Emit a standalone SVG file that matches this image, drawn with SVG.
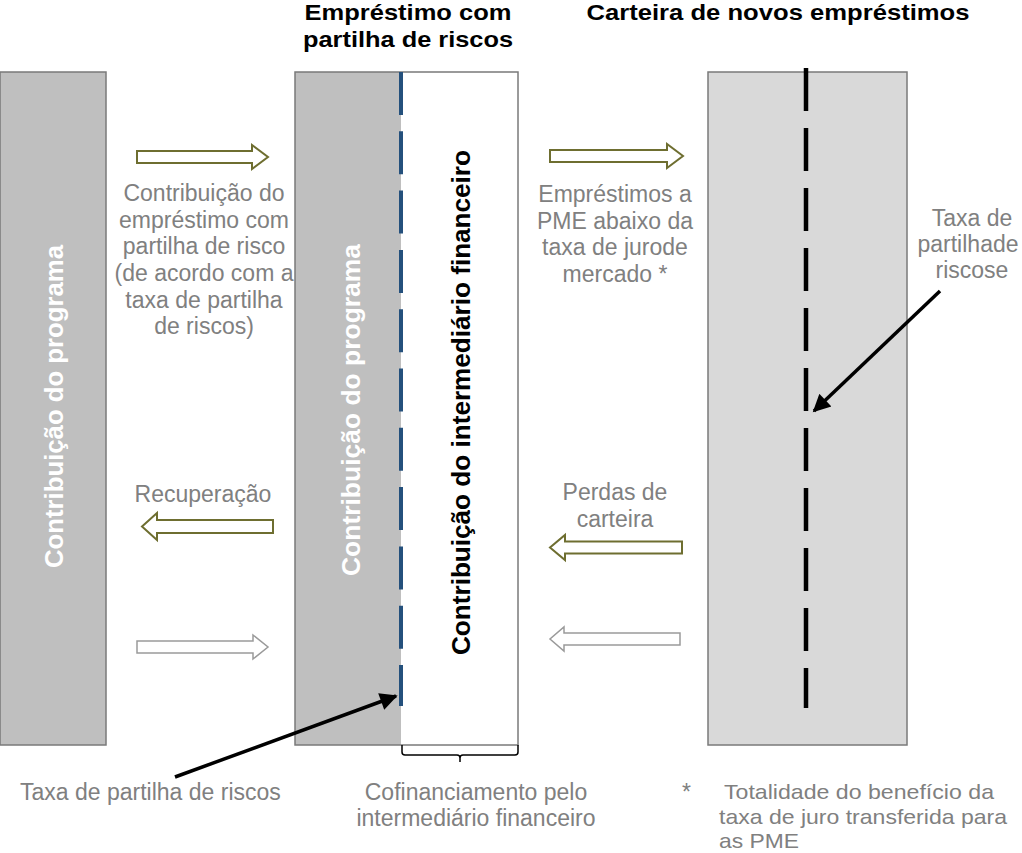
<svg xmlns="http://www.w3.org/2000/svg" width="1022" height="853" viewBox="0 0 1022 853">
<defs>
<style>
.title{font-family:"Liberation Sans",Arial,sans-serif;font-weight:bold;font-size:22px;fill:#000;text-anchor:middle}
.lbl{font-family:"Liberation Sans",Arial,sans-serif;font-size:23px;fill:#808080}
.fn{font-family:"Liberation Sans",Arial,sans-serif;font-size:21px;fill:#808080}
.mid{text-anchor:middle}
.rot{font-family:"Liberation Sans",Arial,sans-serif;font-weight:bold;font-size:26px}
.bar{stroke:#7a7a7a;stroke-width:1.5}
.olive{fill:#fff;stroke:#6e6e30;stroke-width:2;stroke-linejoin:miter}
.grey{fill:#fff;stroke:#9a9a9a;stroke-width:1.5}
.pointer{stroke:#000;stroke-width:3.5;fill:none}
</style>
<marker id="ah" viewBox="0 0 10 10" refX="9" refY="5" markerWidth="5.5" markerHeight="5" orient="auto" markerUnits="strokeWidth">
<path d="M0,0 L10,5 L0,10 Z" fill="#000"/>
</marker>
</defs>
<rect width="1022" height="853" fill="#fff"/>

<g id="titles">
<text class="title" x="408" y="20" textLength="207" lengthAdjust="spacingAndGlyphs">Empréstimo com</text>
<text class="title" x="408" y="47" textLength="210" lengthAdjust="spacingAndGlyphs">partilha de riscos</text>
<text class="title" x="778" y="20" textLength="383" lengthAdjust="spacingAndGlyphs">Carteira de novos empréstimos</text>
</g>

<g id="bar-programa">
<rect class="bar" x="0" y="72" width="106" height="673" fill="#bfbfbf"/>
<text class="rot" fill="#fff" transform="translate(63,568) rotate(-90)" textLength="323" lengthAdjust="spacingAndGlyphs">Contribuição do programa</text>
</g>

<g id="bar-partilha">
<rect x="295" y="72" width="106" height="673" fill="#bfbfbf"/>
<rect x="401" y="72" width="117" height="673" fill="#fff"/>
<rect class="bar" x="295" y="72" width="223" height="673" fill="none"/>
<line x1="401" y1="72" x2="401" y2="706" stroke="#24507c" stroke-width="4" stroke-dasharray="43 16.3"/>
<text class="rot" fill="#fff" transform="translate(360,576) rotate(-90)" textLength="332" lengthAdjust="spacingAndGlyphs">Contribuição do programa</text>
<text class="rot" fill="#000" transform="translate(470,655) rotate(-90)" textLength="505" lengthAdjust="spacingAndGlyphs">Contribuição do intermediário financeiro</text>
</g>

<g id="bar-carteira">
<rect class="bar" x="708" y="72" width="199" height="673" fill="#d9d9d9"/>
<line x1="806" y1="68" x2="806" y2="708" stroke="#000" stroke-width="4.5" stroke-dasharray="43 17"/>
</g>

<g id="flow-arrows">
<path class="olive" d="M137,151 H252 V145 L268,157 L252,169 V163 H137 Z"/>
<path class="olive" d="M550,150 H667 V144 L683,156 L667,168 V162 H550 Z"/>
<path class="olive" d="M273,520 H157 V513 L142,526.5 L157,540 V533 H273 Z"/>
<path class="grey" d="M137,641 H253 V635 L268,647 L253,659 V653 H137 Z"/>
<path class="olive" d="M682,541.5 H565 V535 L550,547.5 L565,560 V553.5 H682 Z"/>
<path class="grey" d="M680,633 H564 V627 L550,639 L564,651 V645 H680 Z"/>
</g>

<g id="connectors">
<line class="pointer" x1="940" y1="291" x2="814" y2="411" marker-end="url(#ah)"/>
<line class="pointer" x1="175" y1="777" x2="396" y2="696" marker-end="url(#ah)"/>
<path d="M402,745 V752 Q402,755 405,755 H457 Q460,755 460,758 V762 M460,758 Q460,755 463,755 H515 Q518,755 518,752 V745" fill="none" stroke="#000" stroke-width="1.5"/>
</g>

<g id="label-contribuicao">
<text class="lbl mid" x="204" y="201">Contribuição do</text>
<text class="lbl mid" x="204" y="227.5">empréstimo com</text>
<text class="lbl mid" x="204" y="254">partilha de risco</text>
<text class="lbl mid" x="204" y="281">(de acordo com a</text>
<text class="lbl mid" x="204" y="307.5">taxa de partilha</text>
<text class="lbl mid" x="204" y="334">de riscos)</text>
</g>

<g id="label-emprestimos">
<text class="lbl mid" x="615" y="202">Empréstimos a</text>
<text class="lbl mid" x="615" y="228.5">PME abaixo da</text>
<text class="lbl mid" x="615" y="255">taxa de jurode</text>
<text class="lbl mid" x="615" y="281.5">mercado *</text>
</g>

<g id="label-taxa-carteira">
<text class="lbl mid" x="972" y="226">Taxa de</text>
<text class="lbl mid" x="968" y="252">partilhade</text>
<text class="lbl mid" x="972" y="278">riscose</text>
</g>

<g id="label-recuperacao">
<text class="lbl mid" x="203" y="502">Recuperação</text>
</g>

<g id="label-perdas">
<text class="lbl mid" x="615" y="500">Perdas de</text>
<text class="lbl mid" x="615" y="527">carteira</text>
</g>

<g id="label-taxa-partilha">
<text class="lbl" x="20" y="800">Taxa de partilha de riscos</text>
</g>

<g id="label-cofinanciamento">
<text class="lbl mid" x="476" y="800">Cofinanciamento pelo</text>
<text class="lbl mid" x="476" y="826">intermediário financeiro</text>
</g>

<g id="footnote">
<text class="lbl" x="682" y="800">*</text>
<text class="fn" x="724" y="799" textLength="270" lengthAdjust="spacingAndGlyphs">Totalidade do benefício da</text>
<text class="fn" x="719" y="823.5" textLength="288" lengthAdjust="spacingAndGlyphs">taxa de juro transferida para</text>
<text class="fn" x="719" y="848" textLength="80" lengthAdjust="spacingAndGlyphs">as PME</text>
</g>
</svg>
